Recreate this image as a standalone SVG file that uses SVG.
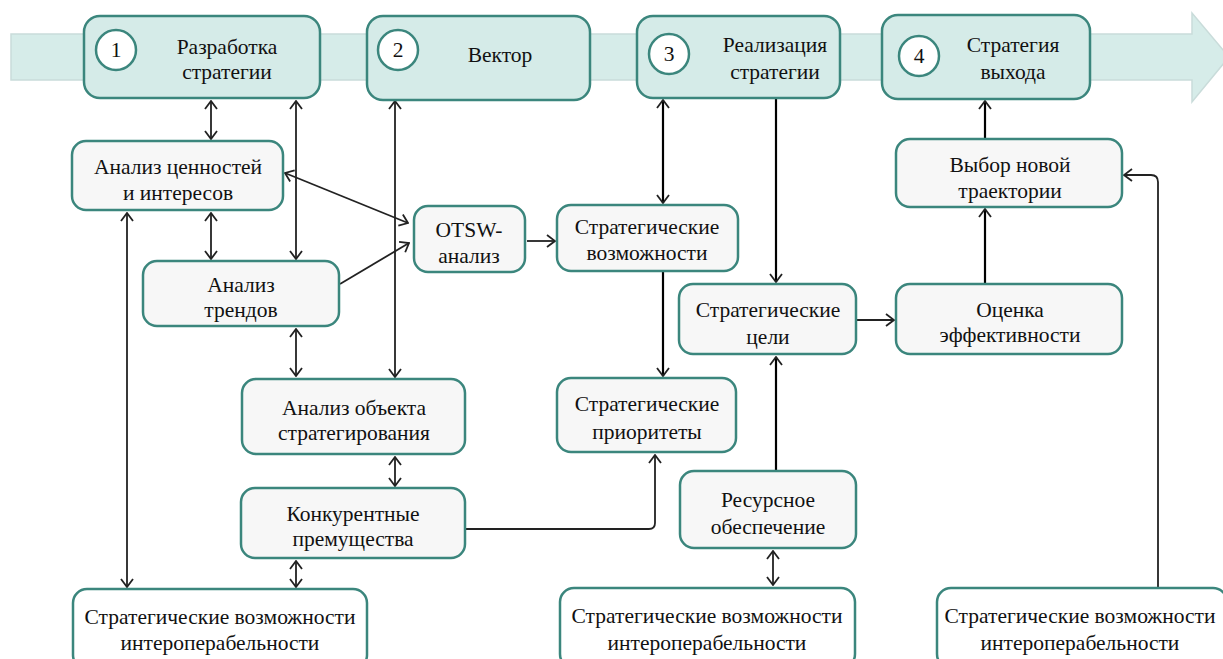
<svg xmlns="http://www.w3.org/2000/svg" width="1223" height="659" viewBox="0 0 1223 659">
<style>
.stage{fill:#d5ebe8;stroke:#3b867d;stroke-width:2.5}
.node{fill:#f7f7f7;stroke:#3b867d;stroke-width:2.5}
.num{fill:#ffffff;stroke:#3b867d;stroke-width:2.5}
.c{fill:none;stroke:#222;stroke-width:1.8}
.k{fill:none;stroke:#000;stroke-width:2.2}
.t{font-family:Liberation Serif;font-size:21.5px;fill:#111;text-anchor:middle}
</style>
<defs>
<marker id="ah" viewBox="0 0 10 14" refX="9" refY="7" markerWidth="10" markerHeight="14" markerUnits="userSpaceOnUse" orient="auto-start-reverse">
<path d="M1,1 L9,7 L1,13" fill="none" stroke="#222" stroke-width="1.8"/>
</marker>
</defs>
<g id="banner">
<polygon points="11,34 1192,34 1192,13 1229,57 1192,102 1192,80 11,80" fill="#d6ece9" stroke="#c9dcda" stroke-width="1.5"/>
</g>
<g id="connectors">
<line class="c" x1="211" y1="101" x2="211" y2="139" marker-start="url(#ah)" marker-end="url(#ah)"/>
<line class="c" x1="296" y1="101" x2="296" y2="259" marker-start="url(#ah)" marker-end="url(#ah)"/>
<line class="c" x1="395" y1="101" x2="395" y2="377" marker-start="url(#ah)" marker-end="url(#ah)"/>
<line class="c" x1="285" y1="173" x2="408" y2="223" marker-start="url(#ah)" marker-end="url(#ah)"/>
<line class="c" x1="340" y1="284" x2="409" y2="243" marker-end="url(#ah)"/>
<line class="c" x1="211" y1="213" x2="211" y2="259" marker-start="url(#ah)" marker-end="url(#ah)"/>
<line class="c" x1="127" y1="213" x2="127" y2="587" marker-start="url(#ah)" marker-end="url(#ah)"/>
<line class="c" x1="296" y1="329" x2="296" y2="376" marker-start="url(#ah)" marker-end="url(#ah)"/>
<line class="c" x1="395" y1="457" x2="395" y2="486" marker-start="url(#ah)" marker-end="url(#ah)"/>
<line class="c" x1="296" y1="561" x2="296" y2="587" marker-start="url(#ah)" marker-end="url(#ah)"/>
<path class="c" d="M466,529 L649,529 Q655,529 655,523 L655,455" marker-end="url(#ah)"/>
<line class="c" x1="527" y1="241" x2="555" y2="241" marker-end="url(#ah)"/>
<line class="k" x1="663" y1="100" x2="663" y2="203" marker-start="url(#ah)" marker-end="url(#ah)"/>
<line class="k" x1="776" y1="99" x2="776" y2="282" marker-end="url(#ah)"/>
<line class="k" x1="663" y1="272" x2="663" y2="376" marker-end="url(#ah)"/>
<line class="k" x1="776" y1="470" x2="776" y2="357" marker-end="url(#ah)"/>
<line class="c" x1="773" y1="551" x2="773" y2="585" marker-start="url(#ah)" marker-end="url(#ah)"/>
<line class="c" x1="857" y1="320" x2="894" y2="320" marker-end="url(#ah)"/>
<line class="k" x1="985" y1="284" x2="985" y2="209" marker-end="url(#ah)"/>
<line class="k" x1="985" y1="139" x2="985" y2="101" marker-end="url(#ah)"/>
<path class="c" d="M1158,588 L1158,182 Q1158,175 1151,175 L1124,175" marker-end="url(#ah)"/>
</g>
<g id="stage1">
<rect class="stage" x="84" y="16" width="236" height="82" rx="16"/>
<circle class="num" cx="116" cy="50" r="20"/>
<text class="t" font-family="Liberation Serif" x="116" y="57">1</text>
<text class="t" font-family="Liberation Serif" x="227" y="54">Разработка</text>
<text class="t" font-family="Liberation Serif" x="227" y="79">стратегии</text>
</g>
<g id="stage2">
<rect class="stage" x="367" y="16" width="223" height="84" rx="16"/>
<circle class="num" cx="398" cy="50" r="20"/>
<text class="t" font-family="Liberation Serif" x="398" y="57">2</text>
<text class="t" font-family="Liberation Serif" x="500" y="62">Вектор</text>
</g>
<g id="stage3">
<rect class="stage" x="637" y="16" width="203" height="82" rx="16"/>
<circle class="num" cx="669" cy="54" r="20"/>
<text class="t" font-family="Liberation Serif" x="669" y="61">3</text>
<text class="t" font-family="Liberation Serif" x="775" y="52">Реализация</text>
<text class="t" font-family="Liberation Serif" x="775" y="79">стратегии</text>
</g>
<g id="stage4">
<rect class="stage" x="882" y="15" width="208" height="84" rx="16"/>
<circle class="num" cx="919" cy="56" r="20"/>
<text class="t" font-family="Liberation Serif" x="919" y="63">4</text>
<text class="t" font-family="Liberation Serif" x="1013" y="52">Стратегия</text>
<text class="t" font-family="Liberation Serif" x="1013" y="79">выхода</text>
</g>
<g id="n-values">
<rect class="node" x="72" y="141" width="211" height="69" rx="14"/>
<text class="t" font-family="Liberation Serif" x="178" y="174">Анализ ценностей</text>
<text class="t" font-family="Liberation Serif" x="178" y="200">и интересов</text>
</g>
<g id="n-trends">
<rect class="node" x="143" y="261" width="196" height="65" rx="14"/>
<text class="t" font-family="Liberation Serif" x="241" y="292">Анализ</text>
<text class="t" font-family="Liberation Serif" x="241" y="317">трендов</text>
</g>
<g id="n-object">
<rect class="node" x="242" y="379" width="223" height="75" rx="14"/>
<text class="t" font-family="Liberation Serif" x="354" y="415">Анализ объекта</text>
<text class="t" font-family="Liberation Serif" x="354" y="440">стратегирования</text>
</g>
<g id="n-compet">
<rect class="node" x="241" y="488" width="224" height="70" rx="14"/>
<text class="t" font-family="Liberation Serif" x="353" y="521">Конкурентные</text>
<text class="t" font-family="Liberation Serif" x="353" y="546">премущества</text>
</g>
<g id="n-interop1">
<rect class="node" x="73" y="589" width="294" height="80" rx="14" style="fill:#ffffff"/>
<text class="t" font-family="Liberation Serif" x="220" y="624">Стратегические возможности</text>
<text class="t" font-family="Liberation Serif" x="220" y="650">интероперабельности</text>
</g>
<g id="n-otsw">
<rect class="node" x="414" y="206" width="111" height="66" rx="14"/>
<text class="t" font-family="Liberation Serif" x="469" y="237">OTSW-</text>
<text class="t" font-family="Liberation Serif" x="469" y="263">анализ</text>
</g>
<g id="n-opps">
<rect class="node" x="557" y="205" width="181" height="66" rx="14"/>
<text class="t" font-family="Liberation Serif" x="647" y="234">Стратегические</text>
<text class="t" font-family="Liberation Serif" x="647" y="260">возможности</text>
</g>
<g id="n-prio">
<rect class="node" x="557" y="378" width="179" height="74" rx="14"/>
<text class="t" font-family="Liberation Serif" x="647" y="411">Стратегические</text>
<text class="t" font-family="Liberation Serif" x="647" y="439">приоритеты</text>
</g>
<g id="n-goals">
<rect class="node" x="679" y="284" width="177" height="70" rx="14"/>
<text class="t" font-family="Liberation Serif" x="768" y="317">Стратегические</text>
<text class="t" font-family="Liberation Serif" x="768" y="344">цели</text>
</g>
<g id="n-eval">
<rect class="node" x="896" y="284" width="226" height="70" rx="14"/>
<text class="t" font-family="Liberation Serif" x="1010" y="317">Оценка</text>
<text class="t" font-family="Liberation Serif" x="1010" y="342">эффективности</text>
</g>
<g id="n-choice">
<rect class="node" x="896" y="139" width="226" height="68" rx="14"/>
<text class="t" font-family="Liberation Serif" x="1010" y="172">Выбор новой</text>
<text class="t" font-family="Liberation Serif" x="1010" y="198">траектории</text>
</g>
<g id="n-resource">
<rect class="node" x="680" y="471" width="176" height="77" rx="14"/>
<text class="t" font-family="Liberation Serif" x="768" y="507">Ресурсное</text>
<text class="t" font-family="Liberation Serif" x="768" y="534">обеспечение</text>
</g>
<g id="n-interop2">
<rect class="node" x="560" y="588" width="295" height="80" rx="14" style="fill:#ffffff"/>
<text class="t" font-family="Liberation Serif" x="707" y="623">Стратегические возможности</text>
<text class="t" font-family="Liberation Serif" x="707" y="650">интероперабельности</text>
</g>
<g id="n-interop3">
<rect class="node" x="937" y="588" width="290" height="80" rx="14" style="fill:#ffffff"/>
<text class="t" font-family="Liberation Serif" x="1080" y="623">Стратегические возможности</text>
<text class="t" font-family="Liberation Serif" x="1080" y="650">интероперабельности</text>
</g>
</svg>
